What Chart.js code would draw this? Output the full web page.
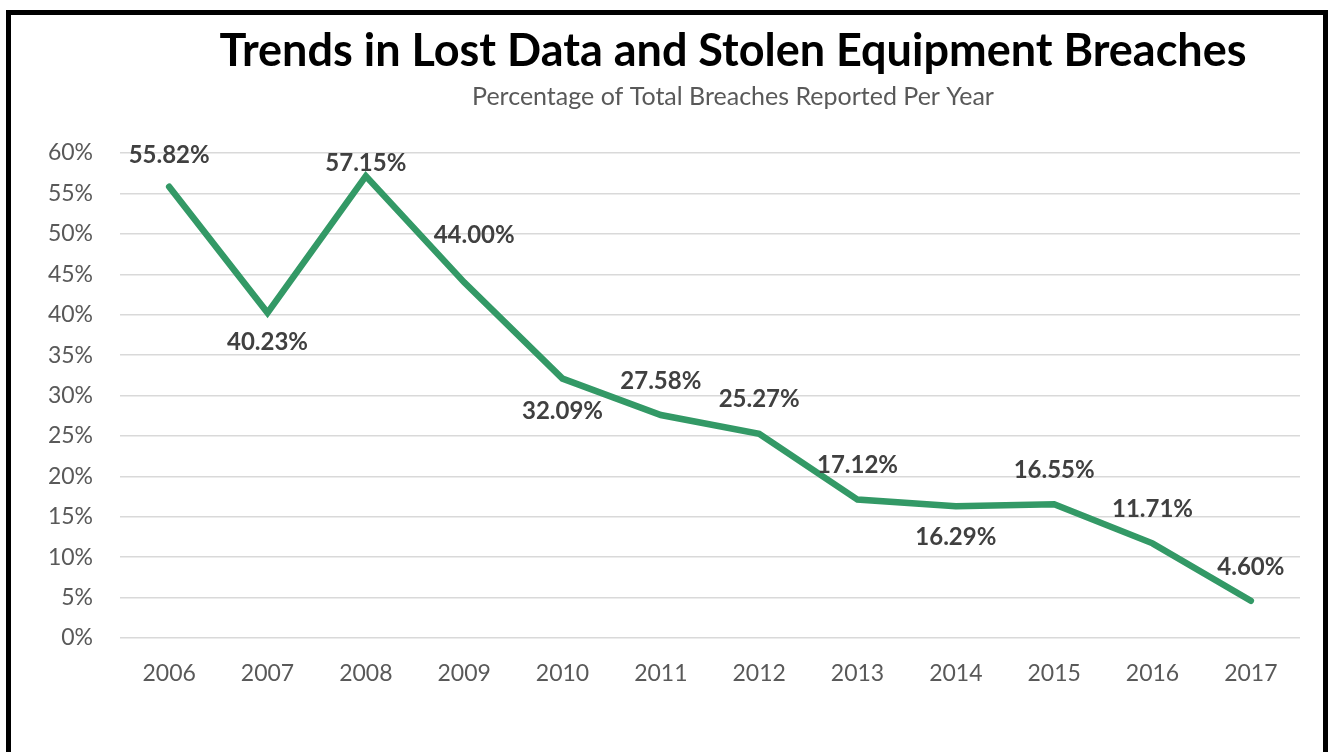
<!DOCTYPE html>
<html>
<head>
<meta charset="utf-8">
<title>Trends in Lost Data and Stolen Equipment Breaches</title>
<script src="https://cdn.jsdelivr.net/npm/chart.js@4.4.1/dist/chart.umd.min.js"></script>
<style>
  html, body { margin: 0; padding: 0; background: #fff; overflow: hidden; }
  #wrap { position: relative; width: 1330px; height: 752px; }
  #frame {
    position: absolute; left: 6px; top: 10px; width: 1312px; height: 800px;
    border: 5px solid #000; pointer-events: none;
  }
</style>
</head>
<body>
<div id="wrap">
  <canvas id="breachChart" width="1330" height="752"></canvas>
  <div id="frame"></div>
</div>
<script>
// Data
const years = ['2006', '2007', '2008', '2009', '2010', '2011', '2012', '2013', '2014', '2015', '2016', '2017'];
const lostStolenPct = [55.82, 40.23, 57.15, 44.00, 32.09, 27.58, 25.27, 17.12, 16.29, 16.55, 11.71, 4.60];
const yTicks = [0, 5, 10, 15, 20, 25, 30, 35, 40, 45, 50, 55, 60];

// where each value label sits relative to its point [dx, dy]
const labelNudge = [[0, -32], [0, 29], [0, -13], [10, -47], [0, 33], [0, -34], [0, -34],
                    [0, -34], [0, 31], [0, -34], [0, -34], [0, -34]];

const green = '#339966';
const fontName = 'Lato, "Open Sans", sans-serif';

// Title + subtitle drawn in the canvas, centred a bit right of the plot
const headings = {
  id: 'headings',
  afterDraw(chart) {
    const ctx = chart.ctx;
    const cx = (chart.chartArea.left + chart.chartArea.right) / 2 + 23;
    ctx.save();
    ctx.textAlign = 'center';
    ctx.textBaseline = 'middle';
    ctx.fillStyle = '#000';
    ctx.font = 'bold 45px ' + fontName;
    ctx.fillText('Trends in Lost Data and Stolen Equipment Breaches', cx, 51);
    ctx.fillStyle = '#595959';
    ctx.font = '25px ' + fontName;
    ctx.fillText('Percentage of Total Breaches Reported Per Year', cx, 97);
    ctx.restore();
  }
};

// Value labels above / below each point
const valueLabels = {
  id: 'valueLabels',
  afterDatasetsDraw(chart) {
    const ctx = chart.ctx;
    const meta = chart.getDatasetMeta(0);
    ctx.save();
    ctx.textAlign = 'center';
    ctx.textBaseline = 'middle';
    ctx.fillStyle = '#404040';
    ctx.font = 'bold 24px ' + fontName;
    meta.data.forEach((pt, i) => {
      const v = chart.data.datasets[0].data[i];
      ctx.fillText(v.toFixed(2) + '%', pt.x + labelNudge[i][0], pt.y + labelNudge[i][1]);
    });
    ctx.restore();
  }
};

const ctx = document.getElementById('breachChart').getContext('2d');
const breachChart = new Chart(ctx, {
  type: 'line',
  data: {
    labels: years,
    datasets: [{
      label: 'Lost / stolen share',
      data: lostStolenPct,
      borderColor: green,
      borderWidth: 6.5,
      borderCapStyle: 'round',
      borderJoinStyle: 'miter',
      pointRadius: 0,
      tension: 0,
      fill: false
    }]
  },
  options: {
    responsive: false,
    animation: false,
    layout: { padding: { top: 153, right: 30, left: 0, bottom: 0 } },
    plugins: {
      legend: { display: false },
      tooltip: { enabled: false },
      title: { display: false }
    },
    scales: {
      x: {
        offset: true,
        grid: { display: false },
        border: { display: false },
        ticks: {
          color: '#595959',
          font: { family: fontName, size: 23 },
          padding: 14,
          maxRotation: 0
        },
        afterFit(scale) { scale.height = 114; }
      },
      y: {
        min: 0,
        max: 60,
        afterBuildTicks(scale) { scale.ticks = yTicks.map(v => ({ value: v })); },
        grid: { color: '#d9d9d9', lineWidth: 1.5, drawTicks: false },
        border: { display: false },
        ticks: {
          color: '#595959',
          font: { family: fontName, size: 23 },
          padding: 27,
          callback: v => v + '%'
        },
        afterFit(scale) { scale.width = 120; }
      }
    }
  },
  plugins: [headings, valueLabels]
});
</script>
</body>
</html>
